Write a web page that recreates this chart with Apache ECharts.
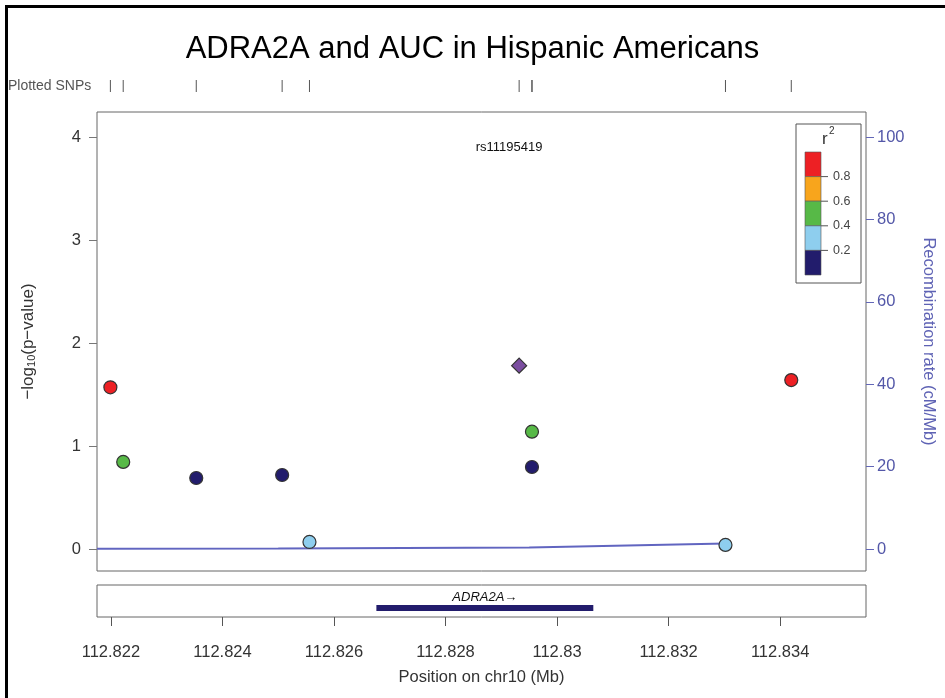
<!DOCTYPE html>
<html><head><meta charset="utf-8">
<script src="https://cdn.jsdelivr.net/npm/echarts@6/dist/echarts.min.js"></script>
<style>html,body{margin:0;padding:0;background:#fff}#c{width:945px;height:698px}</style>
</head><body><div id="c"></div>
<script>
// ---- data ----
const snpPos = [112.82199, 112.82222, 112.82353, 112.82507, 112.82556, 112.82955, 112.82955, 112.83302, 112.83420];
const snpLogP = [1.57, 0.845, 0.689, 0.718, 0.068, 1.139, 0.796, 0.039, 1.64];
const snpR2 = [0.85, 0.5, 0.1, 0.1, 0.3, 0.5, 0.1, 0.3, 0.85];
const leadSnp = {name: 'rs11195419', pos: 112.82932, logp: 1.78};
const recombPos = [112.82175, 112.8250, 112.8295, 112.83302];
const recombRate = [0.05, 0.1, 0.35, 1.3];
const gene = {name: 'ADRA2A', start: 112.82676, end: 112.83065};
const xTicks = [112.822, 112.824, 112.826, 112.828, 112.830, 112.832, 112.834];
const xTickLabels = ['112.822', '112.824', '112.826', '112.828', '112.83', '112.832', '112.834'];
const yTicks = [0, 1, 2, 3, 4];
const yRightTicks = [0, 20, 40, 60, 80, 100];
const r2Breaks = [0.8, 0.6, 0.4, 0.2];
const r2Colors = ['#ED2024', '#F8A51C', '#57B947', '#8ECEEE', '#221C6C']; // high -> low

function colorFor(r2) {
  if (r2 >= 0.8) return r2Colors[0];
  if (r2 >= 0.6) return r2Colors[1];
  if (r2 >= 0.4) return r2Colors[2];
  if (r2 >= 0.2) return r2Colors[3];
  return r2Colors[4];
}

const FONT = 'Liberation Sans, Arial, sans-serif';
const xMin = 112.82175, xMax = 112.83554;
const yMin = -0.214, yMax = 4.243;
const recScale = 25;

const chart = echarts.init(document.getElementById('c'));

// legend graphic
const legX = 805, legTop = 152, segH = 24.6, legW = 16;
const legendEls = [
  {type: 'rect', shape: {x: 796, y: 124, width: 65, height: 159}, style: {fill: '#fff', stroke: '#555', lineWidth: 1}},
  {type: 'text', x: 822, y: 131, style: {text: 'r', font: '17px ' + FONT, fill: '#333'}},
  {type: 'text', x: 829, y: 126, style: {text: '2', font: '10px ' + FONT, fill: '#333'}}
];
r2Colors.forEach((c, i) => {
  legendEls.push({type: 'rect', shape: {x: legX, y: legTop + i * segH, width: legW, height: segH}, style: {fill: c, stroke: '#555', lineWidth: 0.6}});
});
r2Breaks.forEach((b, i) => {
  const y = legTop + (i + 1) * segH;
  legendEls.push({type: 'line', shape: {x1: legX + legW, y1: y, x2: legX + legW + 7, y2: y}, style: {stroke: '#555', lineWidth: 1}});
  legendEls.push({type: 'text', x: 833, y: y, style: {text: String(b), font: '12.5px ' + FONT, fill: '#444', verticalAlign: 'middle'}});
});

const option = {
  animation: false,
  backgroundColor: '#fff',
  title: {
    text: 'ADRA2A and AUC in Hispanic Americans', left: 'center', top: 29,
    textStyle: {fontFamily: FONT, fontSize: 31, fontWeight: 'normal', color: '#000'}
  },
  grid: [
    {left: 97, top: 112, width: 769, height: 459, show: true, borderColor: '#666', borderWidth: 1, backgroundColor: 'transparent'},
    {left: 97, top: 585, width: 769, height: 32, show: true, borderColor: '#666', borderWidth: 1, backgroundColor: 'transparent'},
    {left: 97, top: 80, width: 769, height: 12, show: false}
  ],
  xAxis: [
    {gridIndex: 0, type: 'value', min: xMin, max: xMax, show: false},
    {gridIndex: 1, type: 'value', min: xMin, max: xMax, position: 'bottom',
      axisLine: {show: false}, splitLine: {show: false},
      axisTick: {show: true, length: 9, customValues: xTicks, lineStyle: {color: '#555'}},
      axisLabel: {show: true, customValues: xTicks, margin: 27, fontFamily: FONT, fontSize: 16.5, color: '#333',
        formatter: v => { const i = xTicks.findIndex(t => Math.abs(t - v) < 1e-7); return i >= 0 ? xTickLabels[i] : ''; }},
      name: 'Position on chr10 (Mb)', nameLocation: 'middle', nameGap: 52,
      nameTextStyle: {fontFamily: FONT, fontSize: 16.5, color: '#333'}},
    {gridIndex: 2, type: 'value', min: xMin, max: xMax, show: false}
  ],
  yAxis: [
    {gridIndex: 0, type: 'value', min: yMin, max: yMax, position: 'left',
      axisLine: {show: false}, splitLine: {show: false},
      axisTick: {show: true, length: 8, customValues: yTicks, lineStyle: {color: '#777'}},
      axisLabel: {show: true, customValues: yTicks, margin: 16, fontFamily: FONT, fontSize: 16.5, color: '#333'},
      name: '{a|\u2212log}{b|10}{a|(p\u2212value)}', nameLocation: 'middle', nameGap: 60,
      nameTextStyle: {rich: {a: {fontFamily: FONT, fontSize: 17, color: '#333'}, b: {fontFamily: FONT, fontSize: 11, color: '#333', verticalAlign: 'bottom'}}}},
    {gridIndex: 0, type: 'value', min: yMin * recScale, max: yMax * recScale, position: 'right',
      axisLine: {show: false}, splitLine: {show: false},
      axisTick: {show: true, length: 8, customValues: yRightTicks, lineStyle: {color: '#6367B8'}},
      axisLabel: {show: true, customValues: yRightTicks, margin: 11, fontFamily: FONT, fontSize: 16.5, color: '#5357A8'},
      name: 'Recombination rate (cM/Mb)', nameLocation: 'middle', nameGap: 54, nameRotate: -90,
      nameTextStyle: {fontFamily: FONT, fontSize: 16.5, color: '#5E62B4'}},
    {gridIndex: 1, type: 'value', min: 0, max: 1, show: false},
    {gridIndex: 2, type: 'value', min: 0, max: 1, show: false}
  ],
  series: [
    {type: 'line', xAxisIndex: 0, yAxisIndex: 1, data: recombPos.map((p, i) => [p, recombRate[i]]),
      symbol: 'none', lineStyle: {color: '#6165C0', width: 2}, z: 2},
    {type: 'scatter', xAxisIndex: 0, yAxisIndex: 0, symbol: 'circle', symbolSize: 13,
      data: snpPos.map((p, i) => ({value: [p, snpLogP[i]], itemStyle: {color: colorFor(snpR2[i])}})),
      itemStyle: {borderColor: '#333', borderWidth: 1.2, opacity: 1}, z: 5},
    {type: 'scatter', xAxisIndex: 0, yAxisIndex: 0, symbol: 'diamond', symbolSize: [15, 15],
      data: [[leadSnp.pos, leadSnp.logp]],
      itemStyle: {color: '#7B4EA0', borderColor: '#333', borderWidth: 1.2, opacity: 1}, z: 6},
    {type: 'scatter', xAxisIndex: 2, yAxisIndex: 3, symbol: 'rect', symbolSize: [1, 12],
      data: snpPos.concat([leadSnp.pos]).map(p => [p, 0.5]),
      itemStyle: {color: '#555', opacity: 1}, z: 3},
    {type: 'custom', xAxisIndex: 1, yAxisIndex: 2, data: [[gene.start, gene.end]],
      renderItem: (params, api) => {
        const s = api.coord([api.value(0), 0.28]);
        const e = api.coord([api.value(1), 0.28]);
        const t = api.coord([(api.value(0) + api.value(1)) / 2, 0.6]);
        return {type: 'group', children: [
          {type: 'rect', shape: {x: s[0], y: s[1] - 3, width: e[0] - s[0], height: 6}, style: {fill: '#221C6C'}},
          {type: 'text', x: t[0], y: t[1], style: {text: gene.name + '\u2192', font: 'italic 13px ' + FONT, fill: '#111', align: 'center', verticalAlign: 'middle'}}
        ]};
      }, z: 4}
  ],
  graphic: [
    {type: 'line', shape: {x1: 5, y1: 6.5, x2: 945, y2: 6.5}, style: {stroke: '#000', lineWidth: 3}},
    {type: 'line', shape: {x1: 6.5, y1: 5, x2: 6.5, y2: 698}, style: {stroke: '#000', lineWidth: 3}},
    {type: 'text', x: 8, y: 86, style: {text: 'Plotted SNPs', font: '14px ' + FONT, fill: '#555', verticalAlign: 'middle'}},
    {type: 'text', x: 509, y: 147, style: {text: leadSnp.name, font: '13px ' + FONT, fill: '#111', align: 'center', verticalAlign: 'middle'}}
  ].concat(legendEls)
};
chart.setOption(option);
</script></body></html>
